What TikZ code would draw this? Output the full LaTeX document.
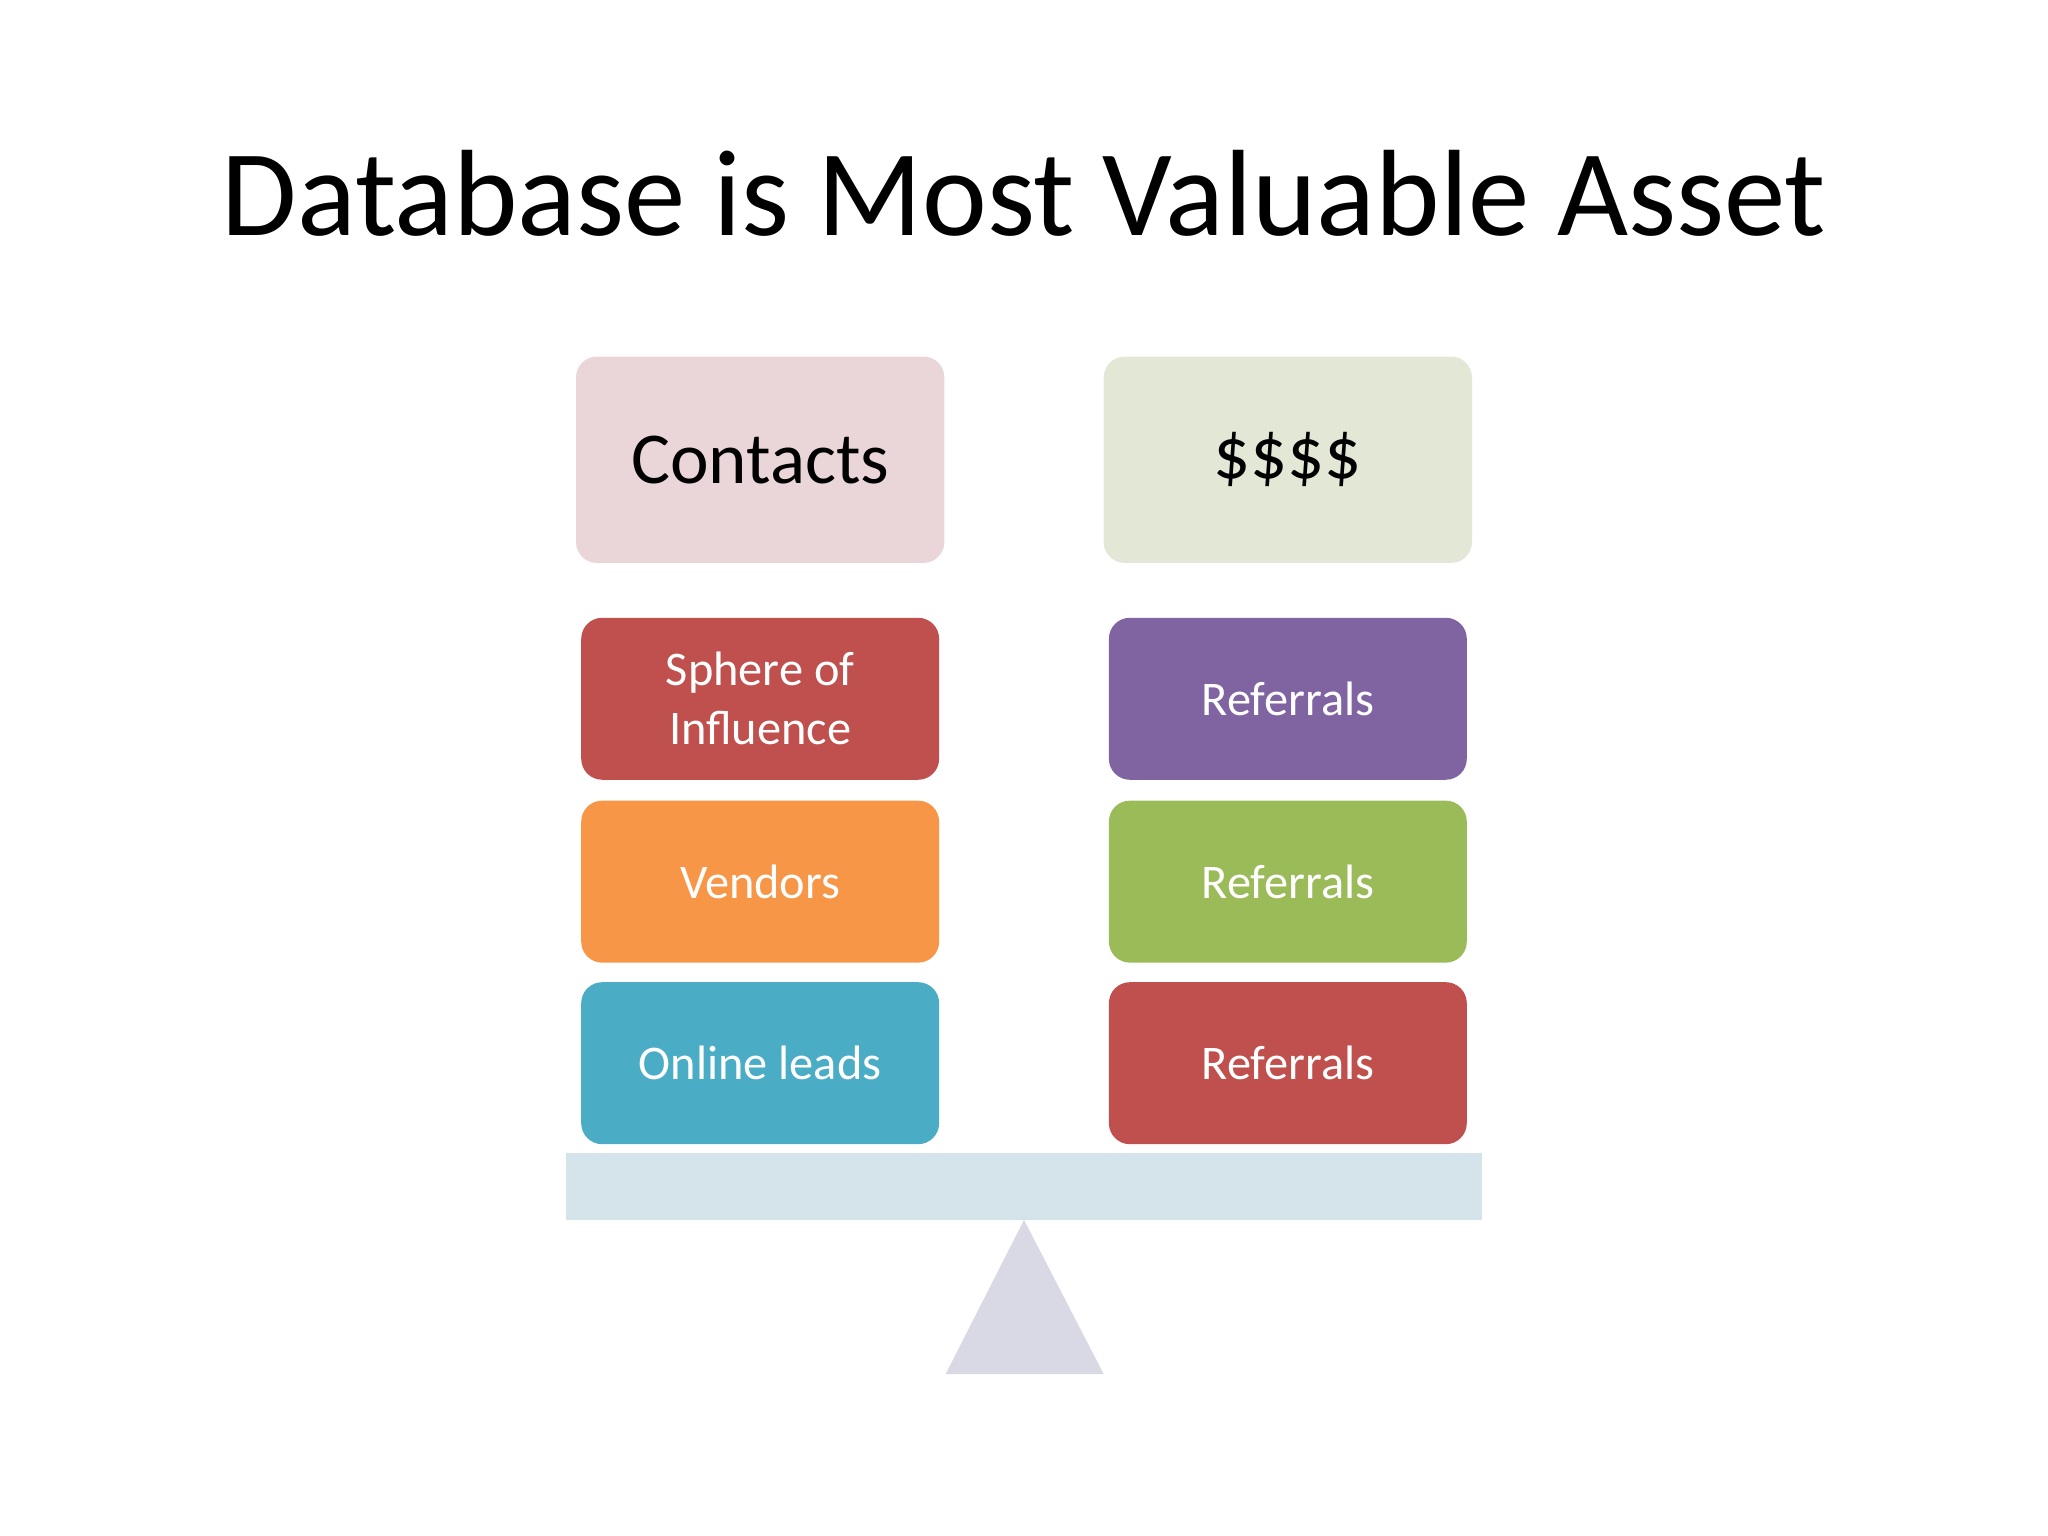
\documentclass[tikz,border=0pt]{standalone}
\usepackage{fontspec}
\setmainfont{Carlito}
\definecolor{cpink}{HTML}{EAD5D9}
\definecolor{cgreenl}{HTML}{E3E8D6}
\definecolor{cred}{HTML}{C0504D}
\definecolor{corange}{HTML}{F79646}
\definecolor{cblue}{HTML}{4BACC6}
\definecolor{cpurple}{HTML}{8064A2}
\definecolor{cgreen}{HTML}{9BBB59}
\definecolor{cbeam}{HTML}{D5E3EB}
\definecolor{ctri}{HTML}{D9D8E5}
\begin{document}
\begin{tikzpicture}[x=0.5pt,y=-0.5pt,
  topbox/.style={draw=none,rounded corners=8pt,minimum width=141pt,minimum height=79pt,font=\fontsize{28}{32}\selectfont,text=black},
  itembox/.style={draw=none,rounded corners=8pt,minimum width=137pt,minimum height=62pt,font=\fontsize{18.5}{22.5}\selectfont,text=white,align=center}]
\useasboundingbox (0,0) rectangle (1568,1176);
\node[font=\fontsize{47}{56}\selectfont] (title) at (784,148) {Database is Most Valuable Asset};
\node[topbox,fill=cpink] (contacts) at (582,352) {Contacts};
\node[topbox,fill=cgreenl] (money) at (986,352) {\$\$\$\$};
\node[itembox,fill=cred] (sphere) at (582,535) {Sphere of\\Influence};
\node[itembox,fill=corange] (vendors) at (582,675) {Vendors};
\node[itembox,fill=cblue] (online) at (582,814) {Online leads};
\node[itembox,fill=cpurple] (ref1) at (986,535) {Referrals};
\node[itembox,fill=cgreen] (ref2) at (986,675) {Referrals};
\node[itembox,fill=cred] (ref3) at (986,814) {Referrals};
\fill[cbeam] (433,883) rectangle (1135,934);
\fill[ctri] (784,934) -- (845,1052) -- (724,1052) -- cycle;
\end{tikzpicture}
\end{document}
